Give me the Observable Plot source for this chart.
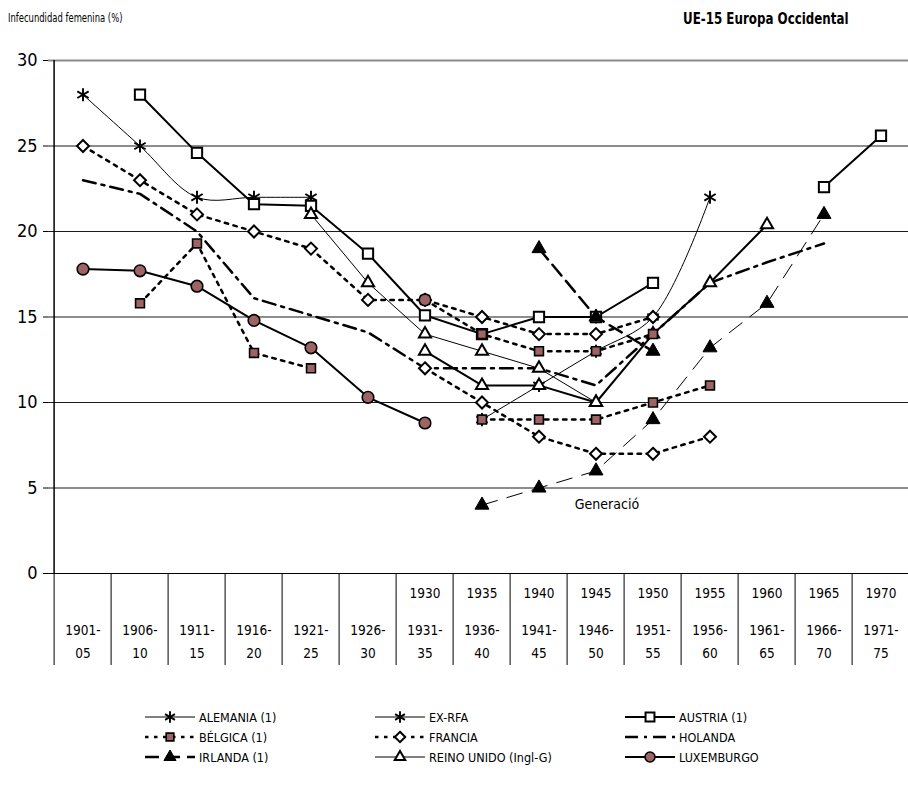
<!DOCTYPE html>
<html>
<head>
<meta charset="utf-8">
<script src="https://cdn.jsdelivr.net/npm/d3@7"></script>
<script src="https://cdn.jsdelivr.net/npm/@observablehq/plot@0.6"></script>
<style>
  html, body { margin: 0; padding: 0; background: #fff; overflow: hidden; }
  #wrap { position: relative; width: 908px; height: 790px; font-family: "Liberation Sans Narrow", "DejaVu Sans Condensed", "Arial Narrow", sans-serif; color: #000; }
  #chart { position: absolute; left: 0; top: 0; z-index: 0; }
  #ylabel { position: absolute; left: 8px; top: 11px; font-size: 12px; z-index: 2; transform: scaleX(0.78); transform-origin: 0 50%; white-space: nowrap; }
  #title { position: absolute; left: 683px; top: 9px; font-size: 16.5px; font-weight: bold; z-index: 2; transform: scaleX(0.8); transform-origin: 0 50%; white-space: nowrap; }
  #gen { position: absolute; left: 557px; top: 496px; width: 100px; text-align: center; font-size: 14px; line-height: 16px; z-index: 2; }
  #legend { position: absolute; left: 0; top: 708px; width: 908px; z-index: 2; }
  .leg { position: absolute; display: flex; align-items: center; font-size: 12.5px; white-space: nowrap; }
  .leg svg { display: block; margin-right: 2px; }
</style>
</head>
<body>
<div id="wrap">
  <div id="chart"></div>
  <div id="ylabel">Infecundidad femenina (%)</div>
  <div id="title">UE-15 Europa Occidental</div>
  <div id="gen">Generació</div>
  <div id="legend"></div>
</div>
<script>
// Birth-cohort categories (two-line tick labels) and the upper row of generation years
const periodStart = ["1901-","1906-","1911-","1916-","1921-","1926-","1931-","1936-","1941-","1946-","1951-","1956-","1961-","1966-","1971-"];
const periodEnd   = ["05","10","15","20","25","30","35","40","45","50","55","60","65","70","75"];
const cohortYear  = ["","","","","","","1930","1935","1940","1945","1950","1955","1960","1965","1970"];
const categories  = periodStart.map((s, i) => s + periodEnd[i]);
const yTicks = [0, 5, 10, 15, 20, 25, 30];

// Female childlessness (%) by cohort; null = no observation
const alemania    = [28, 25, 22, 22, 22, null, null, null, null, 15, null, null, null, null, null];
const exRfa       = [null, null, null, null, null, null, null, 9, 11, 13, 15, 22, null, null, null];
const austria     = [null, 28, 24.6, 21.6, 21.5, 18.7, 15.1, 14, 15, 15, 17, null, null, 22.6, 25.6];
const belgica     = [null, 15.8, 19.3, 12.9, 12, null, null, 9, 9, 9, 10, 11, null, null, null];
const belgicaB    = [null, null, null, null, null, null, 16, 14, 13, 13, 14, null, null, null, null];
const francia     = [25, 23, 21, 20, 19, 16, 16, 15, 14, 14, 15, null, null, null, null];
const franciaB    = [null, null, null, null, null, null, 12, 10, 8, 7, 7, 8, null, null, null];
const holanda     = [23, 22.2, 20, 16.1, 15.1, 14.1, 12, 12, 12, 11, 14, 17, 18.2, 19.3, null];
const irlanda     = [null, null, null, null, null, null, null, null, 19, 15, 13, null, null, null, null];
const irlandaB    = [null, null, null, null, null, null, null, 4, 5, 6, 9, 13.2, 15.8, 21, null];
const reinoUnido  = [null, null, null, null, 21, 17, 14, 13, 12, 10, null, null, null, null, null];
const reinoUnidoB = [null, null, null, null, null, null, 13, 11, 11, 10, 14, 17, 20.4, null, null];
const luxemburgo  = [17.8, 17.7, 16.8, 14.8, 13.2, 10.3, 8.8, null, null, null, null, null, null, null, null];
const luxemburgoB = [null, null, null, null, null, null, 16, null, null, null, null, null, null, null, null];

const legendNames = ["ALEMANIA (1)", "EX-RFA", "AUSTRIA (1)", "BÉLGICA (1)", "FRANCIA", "HOLANDA", "IRLANDA (1)", "REINO UNIDO (Ingl-G)", "LUXEMBURGO"];

// Drawing styles
const BROWN = "#9e6464";
const DOTS = "3.5,5.5";
const DASHDOT = "13,6,3,6";
const DASH = "14,7";
const LONGTHIN = "16,10";
const mk = {
  star:    {symbol: "asterisk", r: 6.2, stroke: "black", strokeWidth: 1.9, fill: "none"},
  square:  {symbol: "square", r: 5.8, stroke: "black", strokeWidth: 2, fill: "white"},
  bsquare: {symbol: "square", r: 5, stroke: "black", strokeWidth: 1.6, fill: BROWN},
  diamond: {symbol: "diamond2", r: 5.4, stroke: "black", strokeWidth: 2, fill: "white"},
  otri:    {symbol: "triangle2", r: 5.8, stroke: "black", strokeWidth: 2, fill: "white"},
  ftri:    {symbol: "triangle", r: 5.2, stroke: "black", strokeWidth: 1, fill: "black"},
  circle:  {symbol: "circle", r: 5.8, stroke: "black", strokeWidth: 1.6, fill: BROWN}
};

const series = [
  {vals: holanda,     line: {strokeWidth: 2.5, strokeDasharray: DASHDOT}, dot: null},
  {vals: alemania,    line: {strokeWidth: 1, curve: "catmull-rom"}, dot: mk.star},
  {vals: exRfa,       line: {strokeWidth: 1, curve: "catmull-rom"}, dot: mk.star},
  {vals: austria,     line: {strokeWidth: 2}, dot: mk.square},
  {vals: francia,     line: {strokeWidth: 2.5, strokeDasharray: DOTS}, dot: mk.diamond},
  {vals: franciaB,    line: {strokeWidth: 2.5, strokeDasharray: DOTS}, dot: mk.diamond},
  {vals: irlanda,     line: {strokeWidth: 2.5, strokeDasharray: DASH}, dot: mk.ftri},
  {vals: irlandaB,    line: {strokeWidth: 1, strokeDasharray: LONGTHIN}, dot: mk.ftri},
  {vals: reinoUnido,  line: {strokeWidth: 1}, dot: mk.otri},
  {vals: reinoUnidoB, line: {strokeWidth: 2}, dot: mk.otri},
  {vals: belgica,     line: {strokeWidth: 2.5, strokeDasharray: DOTS}, dot: mk.bsquare},
  {vals: belgicaB,    line: {strokeWidth: 2.5, strokeDasharray: DOTS}, dot: mk.bsquare},
  {vals: luxemburgo,  line: {strokeWidth: 2}, dot: mk.circle},
  {vals: luxemburgoB, line: {strokeWidth: 2}, dot: mk.circle}
];

const rows = vals => categories.map((cat, i) => ({cat, v: vals[i]}));

const bandStart = 48, bandWidth = 57.8;
const xRange = [bandStart, bandStart + bandWidth * categories.length];
const H = 680, mTop = 60, mBottom = 107;
// depth of the category label block below zero, in y units
const labelDepth = -92 * 30 / (H - mTop - mBottom);

const marks = [
  Plot.ruleY(yTicks.filter(t => t > 0 && t < 30), {stroke: "#1a1a1a", strokeWidth: 1}),
  Plot.ruleY([30], {stroke: "#8a8a8a", strokeWidth: 2}),
  Plot.ruleY([0], {stroke: "#000", strokeWidth: 1.2}),
  Plot.ruleX([categories[0]], {x: d => d, dx: -bandWidth / 2, y1: 0, y2: 30, stroke: "#000", strokeWidth: 1.5}),
  Plot.ruleX(categories, {x: d => d, dx: -bandWidth / 2, y1: labelDepth, y2: 0, stroke: "#000", strokeWidth: 1}),
  Plot.axisY({ticks: yTicks, tickSize: 5, tickPadding: 6, fontSize: 18, label: null, anchor: "left"}),
  Plot.text(categories, {x: d => d, text: (d, i) => cohortYear[i], frameAnchor: "bottom", dy: 24, fontSize: 13.5}),
  Plot.text(categories, {x: d => d, text: (d, i) => periodStart[i], frameAnchor: "bottom", dy: 61, fontSize: 13.5}),
  Plot.text(categories, {x: d => d, text: (d, i) => periodEnd[i], frameAnchor: "bottom", dy: 84, fontSize: 13.5})
];
for (const s of series) {
  marks.push(Plot.line(rows(s.vals), {x: "cat", y: "v", stroke: "black", ...s.line}));
}
for (const s of series) {
  if (s.dot) marks.push(Plot.dot(rows(s.vals).filter(d => d.v != null), {x: "cat", y: "v", ...s.dot}));
}

const chart = Plot.plot({
  width: 908,
  height: H,
  marginTop: mTop,
  marginBottom: mBottom,
  marginLeft: 48,
  marginRight: 0,
  style: {fontFamily: '"Liberation Sans Narrow", "DejaVu Sans Condensed", "Arial Narrow", sans-serif', color: "#000", background: "transparent"},
  x: {type: "band", domain: categories, range: xRange, padding: 0, axis: null},
  y: {domain: [0, 30], axis: null},
  marks
});
document.getElementById("chart").appendChild(chart);

// Legend: three columns, three rows
const legendStyles = [
  {line: {w: 1}, dot: mk.star},
  {line: {w: 1}, dot: mk.star},
  {line: {w: 2}, dot: mk.square},
  {line: {w: 2.5, dash: DOTS}, dot: mk.bsquare},
  {line: {w: 2.5, dash: DOTS}, dot: mk.diamond},
  {line: {w: 2.5, dash: DASHDOT}, dot: null},
  {line: {w: 2.5, dash: DASH}, dot: mk.ftri},
  {line: {w: 1}, dot: mk.otri},
  {line: {w: 2}, dot: mk.circle}
];
const symbolMap = {asterisk: d3.symbolAsterisk, square: d3.symbolSquare, diamond2: d3.symbolDiamond2, triangle2: d3.symbolTriangle2, triangle: d3.symbolTriangle, circle: d3.symbolCircle};
const colX = [145, 375, 625], rowY = [0, 20, 40];
const legend = d3.select("#legend");
legendNames.forEach((name, i) => {
  const st = legendStyles[i];
  const item = legend.append("div").attr("class", "leg")
    .style("left", colX[i % 3] + "px").style("top", rowY[Math.floor(i / 3)] + "px");
  const svg = item.append("svg").attr("width", 52).attr("height", 18);
  svg.append("line").attr("x1", 0).attr("x2", 50).attr("y1", 9).attr("y2", 9)
    .attr("stroke", "black").attr("stroke-width", st.line.w)
    .attr("stroke-dasharray", st.line.dash || null);
  if (st.dot) {
    const d = st.dot;
    svg.append("path")
      .attr("d", d3.symbol(symbolMap[d.symbol], Math.PI * d.r * d.r * 0.75)())
      .attr("transform", "translate(25,9)")
      .attr("fill", d.fill).attr("stroke", d.stroke).attr("stroke-width", d.strokeWidth);
  }
  item.append("span").text(name);
});
</script>
</body>
</html>
